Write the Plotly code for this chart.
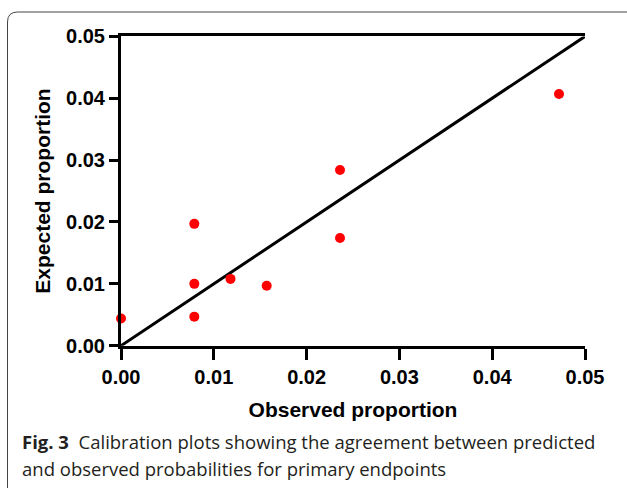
import plotly.graph_objects as go

# Data
observed = [0.0, 0.0079, 0.0079, 0.0079, 0.0118, 0.0157, 0.0236, 0.0236, 0.0472]
expected = [0.0044, 0.0100, 0.0197, 0.0047, 0.0108, 0.0097, 0.0284, 0.0174, 0.0407]
ref_line = [0.0, 0.05]
tick_vals = [0.0, 0.01, 0.02, 0.03, 0.04, 0.05]
tick_text = ["0.00", "0.01", "0.02", "0.03", "0.04", "0.05"]

W, H = 627, 488
x0, x1 = 121, 585
y_top, y_bot = 36.4, 345.7

fig = go.Figure()
fig.add_trace(go.Scatter(x=ref_line, y=ref_line, mode="lines",
                         line=dict(color="black", width=3), showlegend=False,
                         cliponaxis=False, hoverinfo="skip"))
fig.add_trace(go.Scatter(x=observed, y=expected, mode="markers",
                         marker=dict(color="#ff0000", size=10),
                         showlegend=False, cliponaxis=False))

fam = "Liberation Sans, Arial"
axfont = dict(family=fam, size=20, color="black", weight="bold")
titlefont = dict(family=fam, size=21, color="black", weight="bold")
fig.update_layout(
    width=W, height=H,
    margin=dict(l=0, r=0, t=0, b=0, autoexpand=False),
    paper_bgcolor="white", plot_bgcolor="white",
    xaxis=dict(domain=[x0 / W, x1 / W], range=[0, 0.05], tickvals=tick_vals, ticktext=tick_text,
               automargin=False,
               showgrid=False, zeroline=False, showline=True, linecolor="black", linewidth=3,
               mirror=True, ticks="outside", ticklen=11, tickwidth=3, tickcolor="black",
               tickfont=axfont,
               title=dict(text="Observed proportion", font=titlefont, standoff=16)),
    yaxis=dict(domain=[1 - y_bot / H, 1 - y_top / H], range=[0, 0.05], tickvals=tick_vals, ticktext=tick_text,
               automargin=False,
               showgrid=False, zeroline=False, showline=True, linecolor="black", linewidth=3,
               ticks="outside", ticklen=9, tickwidth=3, tickcolor="black",
               tickfont=axfont,
               title=dict(text="Expected proportion", font=titlefont, standoff=10)),
    yaxis2=dict(overlaying="y", side="right", anchor="x", range=[0, 0.05], tickvals=tick_vals,
                automargin=False,
                showticklabels=False, showgrid=False, zeroline=False, showline=True,
                linecolor="black", linewidth=3, ticks="inside", ticklen=9, tickwidth=3, tickcolor="black"),
)

# Rounded frame
rx, ry = 10 / W, 10 / H
fx, fy = 7.5 / W, 1 - 12 / H
fig.add_shape(type="path", xref="paper", yref="paper",
              path=f"M {fx},-0.05 L {fx},{fy - ry} Q {fx},{fy} {fx + rx},{fy} L 1.05,{fy}",
              line=dict(color="#444444", width=1))

capfont = dict(family="Open Sans", size=18.5, color="#231f20")
fig.add_annotation(xref="paper", yref="paper", x=20 / W, y=1 - 441 / H, xanchor="left", yanchor="middle",
                   showarrow=False, font=capfont,
                   text="<b>Fig. 3</b>  Calibration plots showing the agreement between predicted")
fig.add_annotation(xref="paper", yref="paper", x=20 / W, y=1 - 468 / H, xanchor="left", yanchor="middle",
                   showarrow=False, font=capfont,
                   text="and observed probabilities for primary endpoints")

fig.write_html("out.html")
